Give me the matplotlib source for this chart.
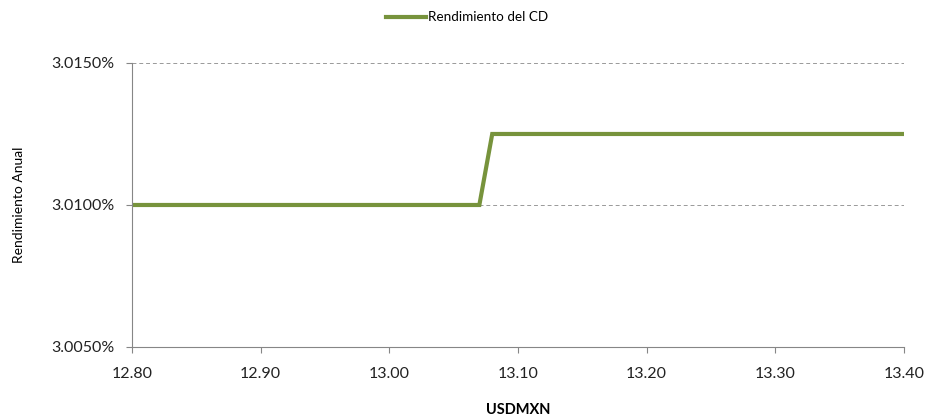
import matplotlib.pyplot as plt
from matplotlib.ticker import FuncFormatter
from matplotlib.lines import Line2D

plt.rcParams['font.family'] = ['Lato', 'DejaVu Sans']

usdmxn = [12.80, 13.07, 13.08, 13.40]
rendimiento = [3.0100, 3.0100, 3.0125, 3.0125]
x_ticks = [12.80, 12.90, 13.00, 13.10, 13.20, 13.30, 13.40]
y_ticks = [3.0050, 3.0100, 3.0150]

green = '#77933C'
gray = '#868686'

fig = plt.figure(figsize=(9.26, 4.16), dpi=100)
ax = fig.add_axes([0.1425, 0.1659, 0.8337, 0.6827])

ax.plot(usdmxn, rendimiento, color=green, linewidth=3, solid_joinstyle='miter')

ax.set_xlim(12.80, 13.40)
ax.set_ylim(3.0050, 3.0150)
ax.set_xticks(x_ticks)
ax.set_yticks(y_ticks)
ax.xaxis.set_major_formatter(FuncFormatter(lambda v, p: f"{v:.2f}"))
ax.yaxis.set_major_formatter(FuncFormatter(lambda v, p: f"{v:.4f}%"))

ax.grid(axis='y', linestyle=(0, (4, 3)), color='#999999', linewidth=0.7)
ax.set_axisbelow(True)
for s in ['top', 'right']:
    ax.spines[s].set_visible(False)
for s in ['left', 'bottom']:
    ax.spines[s].set_color(gray)
    ax.spines[s].set_linewidth(0.8)
ax.tick_params(axis='both', colors=gray, length=4.5, width=0.8, labelcolor='#222222', labelsize=11.5)
ax.tick_params(axis='x', pad=10)
ax.tick_params(axis='y', pad=8)

ax.set_xlabel('USDMXN', fontsize=10.5, fontweight='bold', labelpad=15.5)
ax.set_ylabel('Rendimiento Anual', fontsize=10, labelpad=19)

handle = Line2D([], [], color=green, linewidth=3)
fig.legend([handle], ['Rendimiento del CD'], loc='center', bbox_to_anchor=(0.504, 0.958),
           frameon=False, fontsize=9.7, handlelength=3.0, handletextpad=0.1)

fig.savefig('out.png', dpi=100)
